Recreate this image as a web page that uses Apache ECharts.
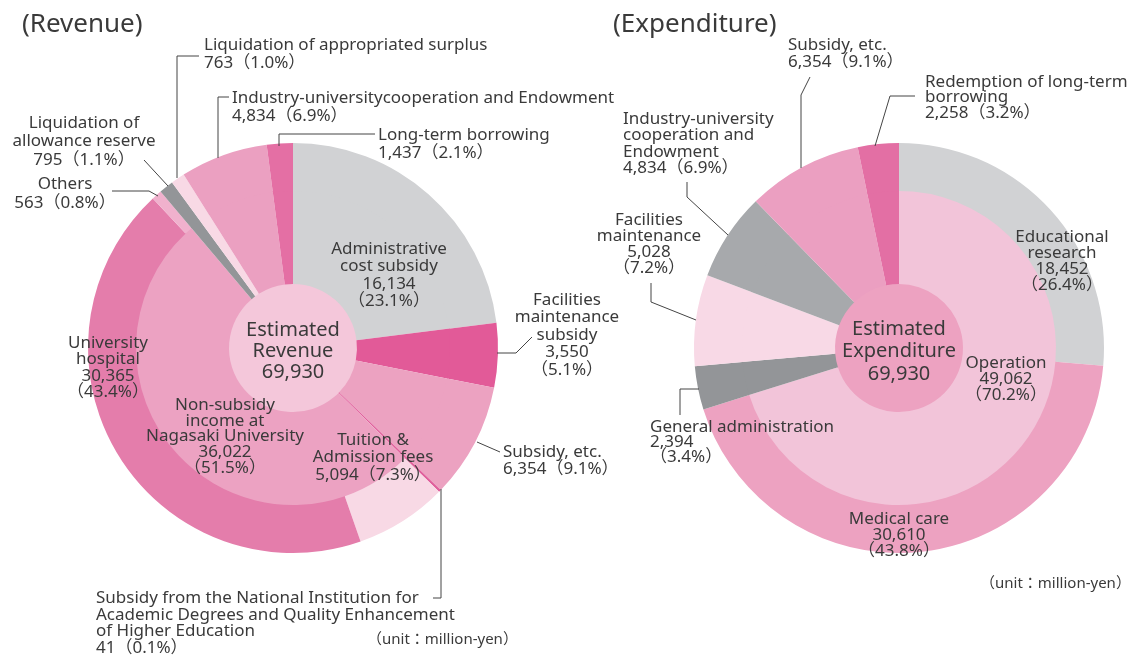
<!DOCTYPE html>
<html lang="en">
<head>
    <meta charset="UTF-8">
    <title>Revenue and Expenditure</title>
    <script src="https://cdnjs.cloudflare.com/ajax/libs/echarts/6.0.0/echarts.min.js"></script>
    <style>
        * { margin: 0; padding: 0; box-sizing: border-box; }
        body { background: #fff; }
        #chart { width: 1131px; height: 655px; }
    </style>
</head>
<body>
    <div id="chart"></div>

    <script>
        // ---- data (unit: million yen) ----
        const total = 69930;

        // revenue, outer ring order clockwise from 12 o'clock
        const revNames = [
            'Administrative\ncost subsidy',
            'Facilities\nmaintenance\nsubsidy',
            'Subsidy, etc.',
            'Subsidy from the National Institution for\nAcademic Degrees and Quality Enhancement\nof Higher Education',
            'Tuition &\nAdmission fees',
            'University\nhospital',
            'Others',
            'Liquidation of\nallowance reserve',
            'Liquidation of appropriated surplus',
            'Industry-universitycooperation and Endowment',
            'Long-term borrowing'
        ];
        const revValues = [16134, 3550, 6354, 41, 5094, 30365, 563, 795, 763, 4834, 1437];
        const revPercents = ['23.1%', '5.1%', '9.1%', '0.1%', '7.3%', '43.4%', '0.8%', '1.1%', '1.0%', '6.9%', '2.1%'];
        // inner ring groups these into one slice
        const revGroupName = 'Non-subsidy\nincome at\nNagasaki University';
        const revGroupValue = 36022;
        const revGroupPercent = '51.5%';
        const revGroupMembers = [4, 5, 6];

        // expenditure
        const expNames = [
            'Educational\nresearch',
            'Medical care',
            'General administration',
            'Facilities\nmaintenance',
            'Industry-university\ncooperation and\nEndowment',
            'Subsidy, etc.',
            'Redemption of long-term\nborrowing'
        ];
        const expValues = [18452, 30610, 2394, 5028, 4834, 6354, 2258];
        const expPercents = ['26.4%', '43.8%', '3.4%', '7.2%', '6.9%', '9.1%', '3.2%'];
        const expGroupName = 'Operation';
        const expGroupValue = 49062;
        const expGroupPercent = '70.2%';
        const expGroupMembers = [0, 1];

        // ---- styles ----
        const revColors = ['#d1d2d4', '#e25a98', '#eca2c1', '#e0609c', '#f8d9e5', '#e47dab', '#f0b1cd', '#939598', '#f8d9e5', '#eba0c1', '#e46fa4'];
        const revGroupColor = '#eca2c2';
        const expColors = ['#d1d2d4', '#eda2c1', '#939598', '#f8d9e6', '#a7a9ac', '#eb9fc1', '#e36fa4'];
        const expGroupColor = '#f2c4d9';

        const FONT = "'Noto Sans', 'Noto Sans CJK JP', sans-serif";
        const TXT = '#3a3a3a';

        const fmt = v => v.toLocaleString('en-US');

        function ringData(names, values, colors) {
            return values.map((v, i) => ({ name: names[i], value: v, itemStyle: { color: colors[i] } }));
        }
        function innerData(names, values, colors, members, gName, gValue, gColor) {
            const out = [];
            values.forEach((v, i) => {
                if (members.indexOf(i) === -1) out.push({ name: names[i], value: v, itemStyle: { color: colors[i] } });
                else if (i === members[0]) out.push({ name: gName, value: gValue, itemStyle: { color: gColor } });
            });
            return out;
        }

        function pie(center, radius, data, extra) {
            return Object.assign({
                type: 'pie', center: center, radius: radius, data: data,
                startAngle: 90, clockwise: true, silent: true, animation: false,
                avoidLabelOverlap: false, label: { show: false }, labelLine: { show: false },
                itemStyle: { borderWidth: 0 }
            }, extra || {});
        }

        const revC = [293, 348];
        const expC = [899, 348];

        // label placement: [x, first line centre y, align, line height, value on own line]
        const revLayout = [
            [389, 249, 'center', 17.5, true],
            [567, 300, 'center', 17.5, true],
            [503, 452, 'left', 17, false],
            [96, 598, 'left', 16.7, false],
            [373, 440, 'center', 17.5, false],
            [108, 343, 'center', 16.5, true],
            [65, 184, 'center', 19, false],
            [84, 123, 'center', 18.5, false],
            [204, 45, 'left', 18.5, false],
            [232, 98, 'left', 18, false],
            [378, 135, 'left', 18, false]
        ];
        const revGroupLayout = [225, 405, 'center', 15.7, true];
        const expLayout = [
            [1062, 237, 'center', 16, true],
            [899, 519, 'center', 16, true],
            [650, 427, 'left', 15, true],
            [649, 220, 'center', 16, true],
            [623, 119, 'left', 16.5, false],
            [788, 45, 'left', 17, false],
            [925, 82, 'left', 15.5, false]
        ];
        const expGroupLayout = [1006, 363, 'center', 16, true];

        const revLines = {
            1: [[497, 353], [516, 353], [532, 337]],
            2: [[477, 442], [500, 452]],
            3: [[433, 598], [441, 598], [441, 489]],
            6: [[112, 191], [149, 191], [158, 196]],
            7: [[144, 160], [168, 186]],
            8: [[199, 56], [177, 56], [177, 178]],
            9: [[229, 97], [218, 97], [218, 158]],
            10: [[375, 134], [279, 134], [279, 146]]
        };
        const expLines = {
            2: [[680, 415], [680, 389], [699, 389]],
            3: [[651, 283], [651, 302], [696, 320]],
            4: [[687, 182], [687, 197], [728, 235]],
            5: [[810, 77], [801, 95], [801, 168]],
            6: [[915, 96], [890, 96], [875, 146]]
        };

        function textEl(str, lay, size) {
            const lh = lay[3];
            return {
                type: 'text', silent: true, z: 10,
                style: {
                    text: str, x: lay[0], y: lay[1] - lh / 2,
                    align: lay[2], textAlign: lay[2], verticalAlign: 'top', textVerticalAlign: 'top',
                    fontSize: size || 17, fontFamily: FONT, fill: TXT, lineHeight: lh
                }
            };
        }
        function labelText(name, value, pct, ownLine) {
            return name + '\n' + fmt(value) + (ownLine ? '\n' : '') + '（' + pct + '）';
        }
        function lineEl(pts) {
            return { type: 'polyline', silent: true, z: 9, shape: { points: pts }, style: { stroke: '#444', lineWidth: 1, fill: null } };
        }

        const graphics = [];
        revNames.forEach((n, i) => {
            graphics.push(textEl(labelText(n, revValues[i], revPercents[i], revLayout[i][4]), revLayout[i]));
        });
        graphics.push(textEl(labelText(revGroupName, revGroupValue, revGroupPercent, true), revGroupLayout));
        expNames.forEach((n, i) => {
            graphics.push(textEl(labelText(n, expValues[i], expPercents[i], expLayout[i][4]), expLayout[i]));
        });
        graphics.push(textEl(labelText(expGroupName, expGroupValue, expGroupPercent, true), expGroupLayout));
        Object.keys(revLines).forEach(k => graphics.push(lineEl(revLines[k])));
        Object.keys(expLines).forEach(k => graphics.push(lineEl(expLines[k])));

        // centre labels, titles, units
        graphics.push(textEl('Estimated\nRevenue\n' + fmt(total), [293, 330, 'center', 21], 20));
        graphics.push(textEl('Estimated\nExpenditure\n' + fmt(total), [899, 329, 'center', 22.5], 20));
        graphics.push(textEl('(Revenue)', [22, 25, 'left', 28], 26));
        graphics.push(textEl('(Expenditure)', [613, 25, 'left', 28], 26));
        graphics.push(textEl('（unit：million-yen）', [367, 640, 'left', 18], 15));
        graphics.push(textEl('（unit：million-yen）', [980, 584, 'left', 18], 15));

        const chart = echarts.init(document.getElementById('chart'));
        chart.setOption({
            animation: false,
            series: [
                pie(revC, [0, 65], [{ name: 'Estimated Revenue', value: total, itemStyle: { color: '#f4c7da' } }]),
                pie(revC, [64, 158], innerData(revNames, revValues, revColors, revGroupMembers, revGroupName, revGroupValue, revGroupColor), { minAngle: 0.7 }),
                pie(revC, [157, 205], ringData(revNames, revValues, revColors), { minAngle: 0.7 }),
                pie(expC, [0, 65], [{ name: 'Estimated Expenditure', value: total, itemStyle: { color: '#eda2c1' } }]),
                pie(expC, [64, 158], innerData(expNames, expValues, expColors, expGroupMembers, expGroupName, expGroupValue, expGroupColor)),
                pie(expC, [157, 205], ringData(expNames, expValues, expColors))
            ],
            graphic: graphics
        });
    </script>
</body>
</html>
